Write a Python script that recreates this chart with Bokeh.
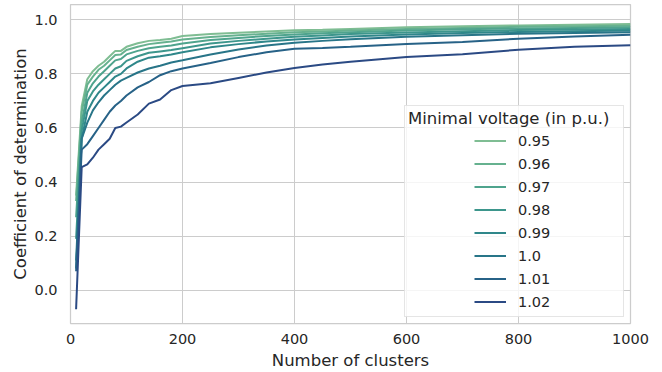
from bokeh.plotting import figure
from bokeh.models import Legend, LegendItem, FixedTicker, PrintfTickFormatter, Range1d
from bokeh.embed import file_html
from bokeh.resources import INLINE

clusters = [10, 20, 30, 40, 50, 60, 70, 80, 90, 100, 120, 140, 160, 180, 200,
            250, 300, 350, 400, 450, 500, 600, 700, 800, 900, 1000]

r2_095 = [0.35, 0.68, 0.78, 0.81, 0.83, 0.845, 0.865, 0.885, 0.885, 0.90, 0.913, 0.922, 0.925,
          0.93, 0.94, 0.947, 0.952, 0.957, 0.961, 0.963, 0.966, 0.972, 0.976, 0.979, 0.982, 0.984]
r2_096 = [0.33, 0.66, 0.76, 0.79, 0.815, 0.83, 0.85, 0.87, 0.872, 0.888, 0.90, 0.91, 0.915,
          0.92, 0.927, 0.936, 0.943, 0.948, 0.954, 0.957, 0.96, 0.966, 0.97, 0.974, 0.976, 0.978]
r2_097 = [0.27, 0.62, 0.73, 0.765, 0.79, 0.81, 0.83, 0.85, 0.855, 0.872, 0.885, 0.895, 0.90,
          0.905, 0.912, 0.925, 0.933, 0.94, 0.946, 0.95, 0.954, 0.96, 0.965, 0.968, 0.97, 0.972]
r2_098 = [0.19, 0.59, 0.70, 0.735, 0.76, 0.78, 0.80, 0.82, 0.828, 0.848, 0.865, 0.878, 0.883,
          0.888, 0.895, 0.912, 0.922, 0.93, 0.937, 0.942, 0.947, 0.953, 0.958, 0.962, 0.964, 0.966]
r2_099 = [0.11, 0.56, 0.66, 0.70, 0.73, 0.75, 0.77, 0.79, 0.80, 0.82, 0.845, 0.86, 0.865,
          0.872, 0.88, 0.898, 0.91, 0.92, 0.927, 0.933, 0.938, 0.946, 0.951, 0.955, 0.958, 0.96]
r2_100 = [0.08, 0.56, 0.62, 0.665, 0.695, 0.72, 0.74, 0.76, 0.775, 0.785, 0.805, 0.82, 0.83,
          0.842, 0.85, 0.872, 0.89, 0.905, 0.915, 0.922, 0.928, 0.937, 0.943, 0.948, 0.951, 0.954]
r2_101 = [0.07, 0.52, 0.54, 0.57, 0.60, 0.63, 0.66, 0.683, 0.70, 0.72, 0.75, 0.77, 0.795,
          0.81, 0.82, 0.84, 0.862, 0.88, 0.893, 0.896, 0.90, 0.91, 0.918, 0.93, 0.938, 0.945]
r2_102 = [-0.07, 0.455, 0.465, 0.49, 0.52, 0.54, 0.56, 0.60, 0.605, 0.62, 0.65, 0.69, 0.705,
          0.74, 0.755, 0.765, 0.785, 0.805, 0.822, 0.835, 0.845, 0.862, 0.873, 0.889, 0.90, 0.906]

levels = ["0.95", "0.96", "0.97", "0.98", "0.99", "1.0", "1.01", "1.02"]
series = [r2_095, r2_096, r2_097, r2_098, r2_099, r2_100, r2_101, r2_102]
colors = ["#7fbd93", "#66b18f", "#4fa48d", "#3d968c", "#2f878a", "#287588", "#276287", "#2b4a84"]

x_ticks = [0, 200, 400, 600, 800, 1000]
y_ticks = [0.0, 0.2, 0.4, 0.6, 0.8, 1.0]

FONT = "DejaVu Sans"
TXT = "#262626"
GRID = "#cccccc"

p = figure(width=662, height=372, output_backend="svg", toolbar_location=None,
           x_range=Range1d(0, 1000), y_range=Range1d(-0.123, 1.0565),
           min_border_left=70, min_border_right=32, min_border_top=4, min_border_bottom=49,
           background_fill_color="white", border_fill_color="white")

p.outline_line_color = GRID
p.outline_line_width = 1.25

for ax in (p.xaxis[0], p.yaxis[0]):
    ax.axis_line_color = None
    ax.major_tick_line_color = None
    ax.minor_tick_line_color = None
    ax.major_tick_out = 0
    ax.major_tick_in = 0
    ax.minor_tick_out = 0
    ax.minor_tick_in = 0
    ax.major_label_text_font = FONT
    ax.major_label_text_font_size = "14.5px"
    ax.major_label_text_color = TXT
    ax.axis_label_text_font = FONT
    ax.axis_label_text_font_size = "16.5px"
    ax.axis_label_text_font_style = "normal"
    ax.axis_label_text_color = TXT

p.xaxis.ticker = FixedTicker(ticks=x_ticks)
p.yaxis.ticker = FixedTicker(ticks=y_ticks)
p.yaxis.formatter = PrintfTickFormatter(format="%.1f")
p.xaxis.axis_label = "Number of clusters"
p.yaxis.axis_label = "Coefficient of determination"
p.xaxis.major_label_standoff = 10
p.xaxis.axis_label_standoff = 4
p.yaxis.major_label_standoff = 13
p.yaxis.axis_label_standoff = 1

p.xgrid.grid_line_color = GRID
p.ygrid.grid_line_color = GRID
p.xgrid.grid_line_width = 1
p.ygrid.grid_line_width = 1

items = []
for lab, ys, c in zip(levels, series, colors):
    r = p.line(clusters, ys, line_color=c, line_width=2)
    items.append(LegendItem(label=lab, renderers=[r]))

dummy = p.line(x=[], y=[], line_alpha=0)

box = Legend(items=[LegendItem(label="", renderers=[dummy])],
             title="Minimal voltage (in p.u.)", location=(334, 6),
             padding=3, spacing=0, label_standoff=0,
             glyph_width=212, glyph_height=183, label_height=183, label_width=0,
             title_text_font=FONT, title_text_font_size="16.5px",
             title_text_font_style="normal", title_text_color=TXT, title_standoff=2,
             border_line_color=GRID, border_line_width=1,
             background_fill_color="white", background_fill_alpha=0.8,
             label_text_font_size="1px")

overlay = Legend(items=items, location=(404, 10), padding=0, spacing=0,
                 glyph_width=32, glyph_height=23, label_height=23, label_standoff=12,
                 label_text_font=FONT, label_text_font_size="14.5px", label_text_color=TXT,
                 border_line_color=None, background_fill_alpha=0)

p.add_layout(box)
p.add_layout(overlay)

open("out.html", "w").write(file_html(p, INLINE))
